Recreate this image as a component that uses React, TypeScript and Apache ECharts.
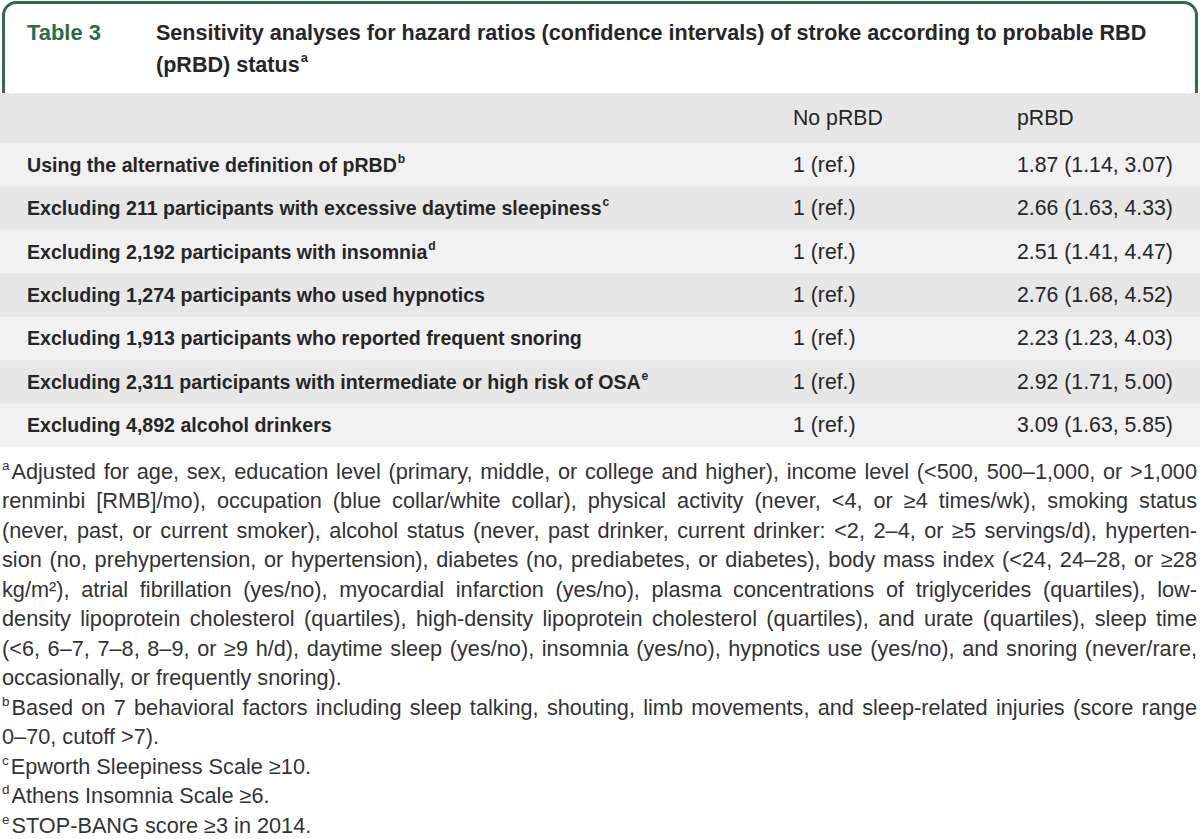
import React, { useEffect, useRef } from "react";
import * as echarts from "echarts";

const tableNumber = "Table 3";
const titleLines = [
  "Sensitivity analyses for hazard ratios (confidence intervals) of stroke according to probable RBD",
  "(pRBD) status",
];
const titleMark = "a";
const columnHeaders = ["No pRBD", "pRBD"];
const rowLabels = [
  "Using the alternative definition of pRBD",
  "Excluding 211 participants with excessive daytime sleepiness",
  "Excluding 2,192 participants with insomnia",
  "Excluding 1,274 participants who used hypnotics",
  "Excluding 1,913 participants who reported frequent snoring",
  "Excluding 2,311 participants with intermediate or high risk of OSA",
  "Excluding 4,892 alcohol drinkers",
];
const rowMarks = ["b", "c", "d", "", "", "e", ""];
const noPrbdValues = ["1 (ref.)", "1 (ref.)", "1 (ref.)", "1 (ref.)", "1 (ref.)", "1 (ref.)", "1 (ref.)"];
const hazardRatios = [1.87, 2.66, 2.51, 2.76, 2.23, 2.92, 3.09];
const ciLower = [1.14, 1.63, 1.41, 1.68, 1.23, 1.71, 1.63];
const ciUpper = [3.07, 4.33, 4.47, 4.52, 4.03, 5.0, 5.85];

const footnoteMarks = ["a", "b", "c", "d", "e"];
const footnoteA = [
  "Adjusted for age, sex, education level (primary, middle, or college and higher), income level (<500, 500–1,000, or >1,000",
  "renminbi [RMB]/mo), occupation (blue collar/white collar), physical activity (never, <4, or ≥4 times/wk), smoking status",
  "(never, past, or current smoker), alcohol status (never, past drinker, current drinker: <2, 2–4, or ≥5 servings/d), hyperten-",
  "sion (no, prehypertension, or hypertension), diabetes (no, prediabetes, or diabetes), body mass index (<24, 24–28, or ≥28",
  "kg/m²), atrial fibrillation (yes/no), myocardial infarction (yes/no), plasma concentrations of triglycerides (quartiles), low-",
  "density lipoprotein cholesterol (quartiles), high-density lipoprotein cholesterol (quartiles), and urate (quartiles), sleep time",
  "(<6, 6–7, 7–8, 8–9, or ≥9 h/d), daytime sleep (yes/no), insomnia (yes/no), hypnotics use (yes/no), and snoring (never/rare,",
  "occasionally, or frequently snoring).",
];
const footnoteB = [
  "Based on 7 behavioral factors including sleep talking, shouting, limb movements, and sleep-related injuries (score range",
  "0–70, cutoff >7).",
];
const footnoteC = ["Epworth Sleepiness Scale ≥10."];
const footnoteD = ["Athens Insomnia Scale ≥6."];
const footnoteE = ["STOP-BANG score ≥3 in 2014."];
const footnotes = [footnoteA, footnoteB, footnoteC, footnoteD, footnoteE];

const FAMILY = '"Liberation Sans", Arial, Helvetica, sans-serif';
const GREEN = "#2e6b47";
const TEXT = "#262626";
const NOTE = "#333333";
const HEAD_BG = "#e6e7e6";
const ROW_LIGHT = "#f1f1f1";
const ROW_DARK = "#e6e7e6";

let ctx: CanvasRenderingContext2D | null = null;
function measure(text: string, size: number, weight: string) {
  if (!ctx) ctx = document.createElement("canvas").getContext("2d");
  ctx!.font = `${weight} ${size}px ${FAMILY}`;
  return ctx!.measureText(text).width;
}
function fit(text: string, weight: string, target: number) {
  return (20 * target) / measure(text, 20, weight);
}

function txt(x: number, y: number, text: string, size: number, weight: string, fill: string, align = "left") {
  return {
    type: "text",
    x,
    y,
    silent: true,
    style: {
      text,
      fontSize: size,
      fontWeight: weight,
      fontFamily: FAMILY,
      fill,
      align,
      verticalAlign: "middle",
      textAlign: align,
      textVerticalAlign: "middle",
    },
  };
}

function buildElements() {
  const els: any[] = [];
  // header box
  els.push({
    type: "rect",
    shape: { x: 3.5, y: 2.5, width: 1193, height: 120, r: [13, 13, 0, 0] },
    style: { fill: "#ffffff", stroke: GREEN, lineWidth: 3 },
    silent: true,
  });
  const tableTop = 93;
  const headH = 50;
  const rowH = 43.43;
  els.push({
    type: "rect",
    shape: { x: 0, y: tableTop, width: 1200, height: headH },
    style: { fill: HEAD_BG },
    silent: true,
  });
  rowLabels.forEach((_, i) => {
    els.push({
      type: "rect",
      shape: { x: 0, y: tableTop + headH + i * rowH, width: 1200, height: rowH + 0.5 },
      style: { fill: i % 2 === 0 ? ROW_LIGHT : ROW_DARK },
      silent: true,
    });
  });

  // title
  const titleSize = fit(titleLines[0], "bold", 991);
  const numSize = fit(tableNumber, "bold", 74);
  els.push(txt(27, 32, tableNumber, numSize, "bold", GREEN));
  els.push(txt(156, 32, titleLines[0], titleSize, "bold", TEXT));
  els.push(txt(156, 64, titleLines[1], titleSize, "bold", TEXT));
  const t2w = measure(titleLines[1], titleSize, "bold");
  els.push(txt(156 + t2w + 1, 57, titleMark, titleSize * 0.6, "bold", TEXT));

  // column headers and rows
  const valSize = fit(`${hazardRatios[0].toFixed(2)} (${ciLower[0].toFixed(2)}, ${ciUpper[0].toFixed(2)})`, "normal", 156);
  const labSize = fit(rowLabels[4], "bold", 555);
  const col1 = 793;
  const col2 = 1017;
  els.push(txt(col1, tableTop + headH / 2, columnHeaders[0], valSize, "normal", TEXT));
  els.push(txt(col2, tableTop + headH / 2, columnHeaders[1], valSize, "normal", TEXT));
  rowLabels.forEach((lab, i) => {
    const cy = tableTop + headH + i * rowH + rowH / 2;
    els.push(txt(27, cy, lab, labSize, "bold", TEXT));
    if (rowMarks[i]) {
      const w = measure(lab, labSize, "bold");
      els.push(txt(27 + w + 1, cy - 6, rowMarks[i], labSize * 0.62, "bold", TEXT));
    }
    els.push(txt(col1, cy, noPrbdValues[i], valSize, "normal", TEXT));
    const v = `${hazardRatios[i].toFixed(2)} (${ciLower[i].toFixed(2)}, ${ciUpper[i].toFixed(2)})`;
    els.push(txt(col2, cy, v, valSize, "normal", TEXT));
  });

  // footnotes (justified)
  const noteSize = fit(footnoteA[7], "normal", 340);
  const supSize = noteSize * 0.62;
  const left = 2;
  const right = 1197;
  const lineH = 29.5;
  let y = 471;
  footnotes.forEach((lines, fi) => {
    lines.forEach((line, li) => {
      let x0 = left;
      if (li === 0) {
        const mark = footnoteMarks[fi];
        els.push(txt(left, y - 6, mark, supSize, "normal", NOTE));
        x0 = left + measure(mark, supSize, "normal") + 2;
      }
      const justify = li < lines.length - 1;
      if (!justify) {
        els.push(txt(x0, y, line, noteSize, "normal", NOTE));
      } else {
        const words = line.split(" ");
        const widths = words.map((w) => measure(w, noteSize, "normal"));
        const total = widths.reduce((a, b) => a + b, 0);
        const gap = (right - x0 - total) / (words.length - 1);
        let x = x0;
        words.forEach((w, k) => {
          els.push(txt(x, y, w, noteSize, "normal", NOTE));
          x += widths[k] + gap;
        });
      }
      y += lineH;
    });
  });
  return els;
}

export default function App() {
  const ref = useRef<HTMLDivElement>(null);
  useEffect(() => {
    if (!ref.current) return;
    const chart = echarts.init(ref.current, undefined, { renderer: "svg" });
    chart.setOption({
      animation: false,
      backgroundColor: "#ffffff",
      graphic: { elements: buildElements() },
    });
    return () => chart.dispose();
  }, []);
  return (
    <div
      ref={ref}
      style={{ position: "fixed", left: 0, top: 0, width: 1200, height: 839, background: "#fff" }}
    />
  );
}
